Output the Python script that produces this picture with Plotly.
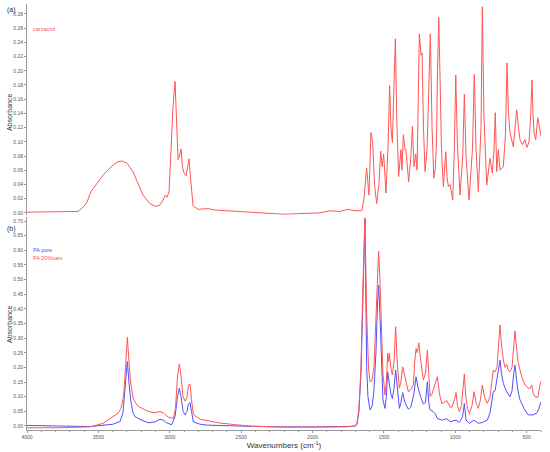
import plotly.graph_objects as go

# ---------------- data ----------------
carv_wn = [4000, 3839, 3727, 3685, 3643, 3608, 3580, 3552, 3524, 3468, 3405, 3363, 3335, 3300,
           3258, 3230, 3188, 3139, 3097, 3069, 3047, 3033, 3019, 3005, 2991, 2977, 2963, 2953,
           2942, 2932, 2921, 2911, 2900, 2886, 2876, 2865, 2855, 2837, 2802, 2732, 2683, 2508,
           2368, 2193, 2088, 1948, 1878, 1808, 1752, 1703, 1654, 1640, 1621, 1605, 1591, 1579,
           1566, 1551, 1535, 1523, 1512, 1502, 1486, 1472, 1460, 1451, 1441, 1431, 1420, 1410,
           1397, 1381, 1374, 1364, 1353, 1346, 1327, 1311, 1301, 1289, 1277, 1268, 1261, 1252,
           1240, 1233, 1223, 1212, 1198, 1186, 1175, 1163, 1151, 1140, 1132, 1125, 1116, 1107,
           1097, 1084, 1067, 1058, 1049, 1037, 1018, 1007, 997, 986, 967, 948, 937, 925, 904,
           880, 867, 855, 839, 820, 811, 800, 780, 757, 741, 729, 720, 710, 699, 687, 664, 649,
           638, 628, 617, 594, 582, 570, 558, 547, 530, 512, 498, 484, 474, 463, 456, 449, 437,
           423, 414, 402, 400]
carv_abs = [0.001, 0.001, 0.002, 0.001, 0.002, 0.008, 0.015, 0.030, 0.038, 0.053, 0.066, 0.072, 0.073, 0.070,
            0.058, 0.045, 0.025, 0.013, 0.009, 0.011, 0.018, 0.025, 0.022, 0.030, 0.090, 0.150, 0.185, 0.140,
            0.075, 0.080, 0.090, 0.065, 0.056, 0.052, 0.065, 0.076, 0.050, 0.010, 0.005, 0.006, 0.004, 0.002,
            0.000, -0.002, -0.001, 0.000, 0.003, 0.002, 0.005, 0.003, 0.003, 0.020, 0.063, 0.025, 0.113, 0.099,
            0.040, 0.013, 0.040, 0.087, 0.065, 0.083, 0.028, 0.090, 0.179, 0.120, 0.099, 0.170, 0.245, 0.130,
            0.051, 0.089, 0.060, 0.110, 0.089, 0.089, 0.044, 0.080, 0.122, 0.065, 0.083, 0.060, 0.150, 0.252,
            0.222, 0.225, 0.120, 0.058, 0.090, 0.170, 0.252, 0.120, 0.049, 0.063, 0.100, 0.200, 0.275, 0.190,
            0.090, 0.037, 0.086, 0.050, 0.037, 0.040, 0.018, 0.090, 0.194, 0.100, 0.025, 0.080, 0.167, 0.080, 0.018,
            0.090, 0.195, 0.090, 0.030, 0.120, 0.290, 0.140, 0.039, 0.077, 0.056, 0.090, 0.141, 0.058, 0.089, 0.060, 0.065, 0.110,
            0.211, 0.140, 0.113, 0.093, 0.120, 0.145, 0.120, 0.103, 0.096, 0.103, 0.092, 0.100, 0.130, 0.187, 0.140, 0.113, 0.103,
            0.134, 0.124, 0.110, 0.108]

pa20_wn = [4000, 3769, 3559, 3468, 3398, 3363, 3342, 3324, 3310, 3297, 3286, 3275, 3255, 3230, 3209,
           3162, 3115, 3069, 3045, 3010, 2975, 2960, 2946, 2933, 2921, 2907, 2893, 2879, 2869, 2858,
           2848, 2835, 2788, 2741, 2648, 2531, 2417, 2179, 1948, 1773, 1703, 1689, 1675, 1661, 1647,
           1633, 1621, 1608, 1598, 1584, 1570, 1556, 1545, 1537, 1528, 1517, 1507, 1493, 1483, 1474,
           1467, 1462, 1452, 1441, 1429, 1418, 1405, 1392, 1381, 1369, 1353, 1329, 1311, 1294, 1284,
           1275, 1266, 1256, 1244, 1224, 1209, 1196, 1186, 1177, 1163, 1149, 1126, 1111, 1095, 1079,
           1060, 1037, 1023, 1006, 995, 985, 972, 957, 946, 937, 927, 915, 902, 883, 869, 855, 839,
           824, 811, 796, 776, 757, 734, 722, 708, 696, 687, 677, 664, 652, 640, 629, 617, 603, 591,
           582, 572, 561, 547, 530, 512, 491, 477, 465, 454, 442, 423, 410, 403, 400]
pa20_abs = [-0.006, -0.006, -0.003, 0.009, 0.032, 0.043, 0.060, 0.100, 0.200, 0.303, 0.220, 0.150, 0.092, 0.072, 0.064,
            0.052, 0.045, 0.049, 0.045, 0.030, 0.026, 0.060, 0.170, 0.212, 0.170, 0.100, 0.085, 0.100, 0.140, 0.143,
            0.090, 0.040, 0.023, 0.018, 0.010, 0.004, -0.001, -0.004, -0.004, -0.003, 0.000, 0.010, 0.060, 0.200, 0.480,
            0.711, 0.380, 0.200, 0.151, 0.155, 0.200, 0.350, 0.520, 0.597, 0.500, 0.300, 0.180, 0.106, 0.150, 0.248,
            0.220, 0.248, 0.200, 0.174, 0.220, 0.339, 0.200, 0.129, 0.150, 0.202, 0.170, 0.117, 0.125, 0.140, 0.220,
            0.265, 0.250, 0.284, 0.230, 0.157, 0.180, 0.259, 0.180, 0.100, 0.110, 0.130, 0.168, 0.110, 0.077, 0.080,
            0.087, 0.064, 0.065, 0.090, 0.114, 0.070, 0.049, 0.070, 0.130, 0.178, 0.100, 0.060, 0.043, 0.070, 0.117, 0.080, 0.060,
            0.090, 0.140, 0.100, 0.077, 0.100, 0.191, 0.185, 0.200, 0.300, 0.345, 0.280, 0.225, 0.200, 0.210, 0.190, 0.185, 0.200, 0.280,
            0.325, 0.270, 0.220, 0.191, 0.160, 0.140, 0.130, 0.128, 0.140, 0.110, 0.100, 0.097, 0.140, 0.151, 0.148]

pa_wn = [4000, 3769, 3559, 3398, 3349, 3328, 3312, 3297, 3286, 3274, 3258, 3244, 3209, 3150, 3103,
         3069, 3047, 3022, 2987, 2963, 2946, 2933, 2921, 2907, 2893, 2879, 2869, 2858, 2848, 2835,
         2788, 2741, 2531, 2228, 1948, 1773, 1703, 1689, 1675, 1661, 1647, 1633, 1621, 1612, 1598,
         1584, 1570, 1556, 1545, 1537, 1528, 1517, 1507, 1493, 1483, 1474, 1462, 1452, 1441, 1429,
         1418, 1405, 1392, 1381, 1369, 1353, 1329, 1311, 1290, 1275, 1261, 1244, 1224, 1209, 1196,
         1186, 1177, 1156, 1142, 1126, 1095, 1060, 1037, 995, 972, 950, 937, 925, 902, 869, 839,
         811, 776, 757, 734, 722, 708, 696, 687, 677, 664, 652, 640, 617, 603, 591, 582, 572, 561,
         547, 533, 519, 491, 456, 428, 414, 403, 400]
pa_abs = [0.002, 0.001, -0.002, 0.006, 0.015, 0.045, 0.140, 0.220, 0.150, 0.089, 0.045, 0.032, 0.023, 0.011, 0.014,
          0.023, 0.020, 0.011, 0.004, 0.032, 0.100, 0.129, 0.100, 0.050, 0.038, 0.050, 0.075, 0.080, 0.050, 0.014,
          0.006, 0.003, 0.000, -0.003, -0.003, -0.003, -0.001, 0.005, 0.050, 0.180, 0.450, 0.705, 0.200, 0.100, 0.055,
          0.065, 0.120, 0.250, 0.420, 0.481, 0.380, 0.180, 0.090, 0.060, 0.100, 0.185, 0.140, 0.110, 0.094, 0.130,
          0.191, 0.110, 0.060, 0.080, 0.114, 0.080, 0.057, 0.065, 0.110, 0.168, 0.130, 0.100, 0.075, 0.080, 0.151,
          0.080, 0.055, 0.050, 0.043, 0.026, 0.020, 0.025, 0.015, 0.020, 0.012, 0.030, 0.077, 0.020, 0.009, 0.020, 0.009,
          0.012, 0.020, 0.045, 0.117, 0.120, 0.160, 0.200, 0.225, 0.180, 0.146, 0.130, 0.117, 0.100, 0.120, 0.180, 0.208, 0.160, 0.120,
          0.089, 0.075, 0.060, 0.038, 0.038, 0.045, 0.060, 0.080, 0.080]

x_ticks = [4000, 3500, 3000, 2500, 2000, 1500, 1000, 500]
ya_ticks = [round(0.02 * i, 2) for i in range(15)]
yb_ticks = [round(0.05 * i, 2) for i in range(15)]

# ---------------- figure ----------------
RED = "rgb(255,85,85)"
BLUE = "rgb(80,80,255)"
GREY = "#9a9a9a"
TXT = "#555555"
FONT = "Liberation Sans"

fig = go.Figure()
fig.add_trace(go.Scatter(x=carv_wn, y=carv_abs, mode="lines", line=dict(color=RED, width=1),
                         xaxis="x2", yaxis="y2", name="carvacrol", showlegend=False))
fig.add_trace(go.Scatter(x=pa_wn, y=pa_abs, mode="lines", line=dict(color=BLUE, width=1),
                         xaxis="x", yaxis="y", name="PA pure", showlegend=False))
fig.add_trace(go.Scatter(x=pa20_wn, y=pa20_abs, mode="lines", line=dict(color=RED, width=1),
                         xaxis="x", yaxis="y", name="PA 20%carv", showlegend=False))

yax = dict(showgrid=False, zeroline=False, showline=True, linecolor=GREY, linewidth=1,
           ticks="outside", ticklen=2, tickcolor=GREY, tickwidth=1, automargin=False,
           tickfont=dict(size=5, color=TXT, family=FONT),
           minor=dict(ticks="outside", ticklen=1, tickcolor=GREY, nticks=5))

fig.update_layout(
    width=550, height=452,
    margin=dict(l=27, r=9, t=4, b=22),
    paper_bgcolor="white", plot_bgcolor="white",
    font=dict(family=FONT, color=TXT),
    xaxis=dict(range=[4000, 400], tickvals=x_ticks, ticktext=[str(v) for v in x_ticks],
               showgrid=False, zeroline=False, showline=True, linecolor=GREY, linewidth=1,
               ticks="outside", ticklen=2, tickcolor=GREY, automargin=False,
               tickfont=dict(size=5, color=TXT, family=FONT),
               minor=dict(ticks="outside", ticklen=1, tickcolor=GREY, dtick=100),
               title=dict(text="Wavenumbers (cm<sup>-1</sup>)", font=dict(size=8, color="#333", family=FONT),
                          standoff=0),
               anchor="y", domain=[0, 1]),
    xaxis2=dict(range=[4000, 400], matches="x", showticklabels=False, showgrid=False, zeroline=False,
                showline=False, ticks="", anchor="y2", domain=[0, 1], automargin=False),
    yaxis=dict(domain=[0, 0.5], range=[-0.0137, 0.7137], tickvals=yb_ticks,
               ticktext=[f"{v:.2f}" for v in yb_ticks], **yax),
    yaxis2=dict(domain=[0.505, 1], range=[-0.0028, 0.294], tickvals=ya_ticks,
                ticktext=[f"{v:.2f}" for v in ya_ticks], **yax),
)

ann = [
    dict(text="(a)", x=-0.043, y=0.986, size=7, color="#333"),
    dict(text="(b)", x=-0.043, y=0.472, size=7, color="#333"),
    dict(text="carvacrol", x=0.007, y=0.942, size=5.5, color=RED),
    dict(text="PA pure", x=0.007, y=0.4225, size=5.5, color=BLUE),
    dict(text="PA 20%carv", x=0.007, y=0.4045, size=5.5, color=RED),
]
for a in ann:
    fig.add_annotation(xref="paper", yref="paper", showarrow=False, xanchor="left", yanchor="middle",
                       text=a["text"], x=a["x"], y=a["y"],
                       font=dict(family=FONT, size=a["size"], color=a["color"]))
for ypx in (113, 325):
    fig.add_annotation(xref="paper", yref="paper", showarrow=False, text="Absorbance", textangle=-90,
                       x=(9 - 27) / 514, y=(430 - ypx) / 426, xanchor="center", yanchor="middle",
                       font=dict(family=FONT, size=7, color="#333"))

fig.write_html("out.html", include_plotlyjs=True, config={"displayModeBar": False},
               post_script="document.body.style.margin='0';document.body.style.overflow='hidden';")
